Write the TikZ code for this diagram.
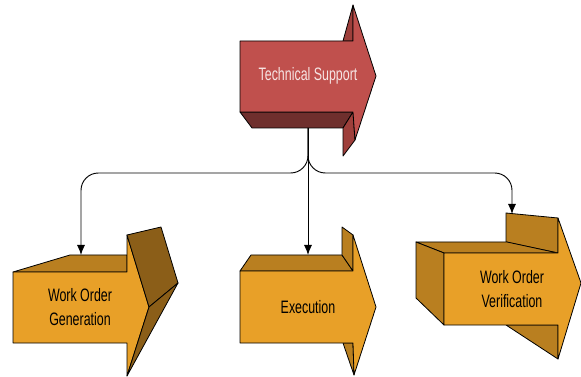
\documentclass[tikz,border=0pt]{standalone}
\usepackage{fontspec}
\setmainfont{Liberation Sans}
\newfontfamily\narrowsans[FakeStretch=0.69]{Liberation Sans}
\usetikzlibrary{arrows.meta}
\definecolor{tsfront}{HTML}{C0504D}
\definecolor{tsbottom}{HTML}{6F2F2D}
\definecolor{tsside}{HTML}{9E3F3B}
\definecolor{ofront}{HTML}{E8A028}
\definecolor{otop}{HTML}{B97F20}
\definecolor{odark}{HTML}{8B5E18}
\definecolor{tstext}{HTML}{F6E4E3}
\tikzset{
  face/.style={draw=black, line width=0.6pt, line join=round},
  conn/.style={draw=black, line width=0.7pt, -{Latex[length=7.5pt,width=6pt]}},
  lbl/.style={font=\narrowsans\fontsize{13.5}{18}\selectfont, align=center, inner sep=0pt}
}
\begin{document}
\begin{tikzpicture}[x=0.75pt,y=-0.75pt]
\useasboundingbox (0,0) rectangle (581,377);
% ---------- Technical Support ----------
\fill[white] (0,0) rectangle (581,377);
\path[face, fill=tsside] (343,41) -- (353,5) -- (353,41) -- cycle;
\path[face, fill=tsbottom] (240,112) -- (353,112) -- (343,128) -- (252,128) -- cycle;
\path[face, fill=tsside] (353,112) -- (355,140) -- (343,156) -- (343,128) -- cycle;
\path[face, fill=tsfront] (240,41) -- (353,41) -- (353,5) -- (376,76) -- (355,140) -- (353,112) -- (240,112) -- cycle;
\node[lbl, text=tstext] (ts) at (308,76) {Technical Support};
\coordinate (tsout) at (308,128);
% ---------- Work Order Generation ----------
\path[face, fill=otop] (13,272) -- (70,255) -- (127,255) -- (127,272) -- cycle;
\path[face, fill=ofront] (13,272) -- (127,272) -- (127,235) -- (149,307) -- (127,376) -- (127,343) -- (13,343) -- cycle;
\path[face, fill=odark] (127,235) -- (161,227) -- (178,283) -- (149,307) -- cycle;
\path[face, fill=odark] (149,307) -- (178,283) -- (127,376) -- cycle;
\node[lbl] (wog) at (80,307) {Work Order\\Generation};
\coordinate (wogin) at (81,255);
% ---------- Execution ----------
\path[face, fill=otop] (240,271) -- (251,255) -- (342,255) -- (353,271) -- cycle;
\path[face, fill=otop] (342,227) -- (353,235) -- (353,271) -- (342,255) -- cycle;
\path[face, fill=otop] (343,343) -- (353,343) -- (354,375) -- cycle;
\path[face, fill=ofront] (240,271) -- (353,271) -- (353,235) -- (376,307) -- (354,375) -- (353,343) -- (240,343) -- cycle;
\node[lbl] (ex) at (308,307) {Execution};
\coordinate (exin) at (308,255);
% ---------- Work Order Verification ----------
\path[face, fill=otop] (506,213) -- (558,218) -- (558,253) -- (506,242) -- cycle;
\path[face, fill=otop] (506,325) -- (558,325) -- (558,359) -- cycle;
\path[face, fill=otop] (416,242) -- (507,242) -- (558,253) -- (444,253) -- cycle;
\path[face, fill=otop] (416,242) -- (444,253) -- (444,325) -- (416,298) -- cycle;
\path[face, fill=ofront] (444,253) -- (558,253) -- (558,218) -- (581,283) -- (558,359) -- (558,325) -- (444,325) -- cycle;
\node[lbl] (wov) at (512,289) {Work Order\\Verification};
\coordinate (wovin) at (512,214);
% ---------- connectors ----------
\draw[conn] (tsout) -- (exin);
\draw[conn, rounded corners=13] (tsout) |- (wogin |- 0,173) -- (wogin);
\draw[conn, rounded corners=13] (tsout) |- (wovin |- 0,173) -- (wovin);
\end{tikzpicture}
\end{document}
